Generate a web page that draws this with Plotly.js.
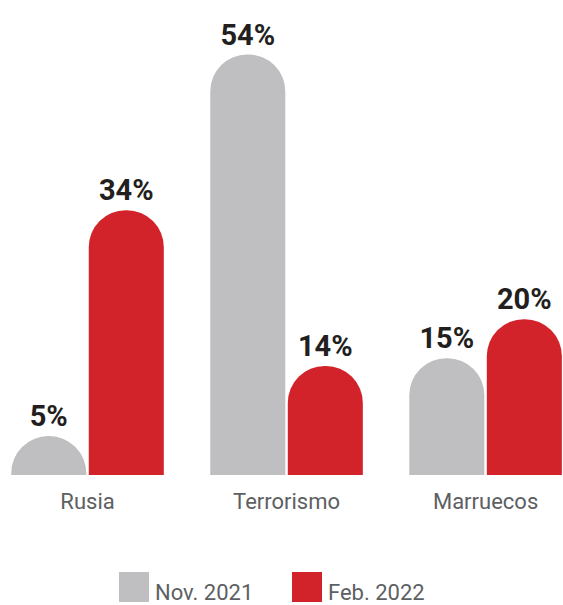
<!DOCTYPE html>
<html>
<head>
<meta charset="utf-8">
<script src="https://cdn.plot.ly/plotly-3.0.1.min.js"></script>
<style>html,body{margin:0;padding:0;background:#fff;}#chart{width:563px;height:605px;}</style>
</head>
<body>
<div id="chart"></div>
<script>
const categories = ["Rusia", "Terrorismo", "Marruecos"];
const nov2021 = [5, 54, 15];
const feb2022 = [34, 14, 20];
const seriesNames = ["Nov. 2021", "Feb. 2022"];
const seriesColors = ["#bfbec0", "#d2232a"];

const FONT = "Roboto, 'Noto Sans', sans-serif";
const labelFont = {family: FONT, size: 29, color: "#231f20", weight: 700};

function trace(vals, name, color) {
  return {
    type: "bar", x: categories, y: vals, name: name,
    marker: {color: color, cornerradius: "50%"},
    text: vals.map(v => v + "%"), textposition: "outside",
    textfont: labelFont, cliponaxis: false, hoverinfo: "skip", showlegend: false
  };
}

const data = [
  trace(nov2021, seriesNames[0], seriesColors[0]),
  trace(feb2022, seriesNames[1], seriesColors[1])
];

// legend drawn as squares + text below the plot (plot area spans y 0..475 px)
const H = 475, W = 563;
const legendItems = [
  {sq: 119, txt: 153},
  {sq: 292, txt: 326}
];
const shapes = legendItems.map((it, i) => ({
  type: "rect", xref: "paper", yref: "paper",
  x0: it.sq / W, x1: (it.sq + 30) / W,
  y0: (H - 602) / H, y1: (H - 572) / H,
  fillcolor: seriesColors[i], line: {width: 0}
}));
const annotations = legendItems.map((it, i) => ({
  xref: "paper", yref: "paper", x: it.txt / W, y: (H - 592) / H,
  xanchor: "left", yanchor: "middle", showarrow: false,
  text: seriesNames[i], font: {family: FONT, size: 22, color: "#5d6062"}
}));

const layout = {
  width: 563, height: 605,
  margin: {l: 0, r: 0, t: 0, b: 130},
  paper_bgcolor: "#fff", plot_bgcolor: "#fff",
  barmode: "group", bargap: 0.221, bargroupgap: 0.032,
  showlegend: false,
  shapes: shapes, annotations: annotations,
  xaxis: {range: [-0.4397, 2.389], showgrid: false, zeroline: false, showline: false,
    ticks: "outside", ticklen: 7, tickcolor: "rgba(0,0,0,0)",
    tickfont: {family: FONT, size: 22, color: "#5d6062"}},
  yaxis: {range: [0, 61], visible: false, showgrid: false, zeroline: false}
};

Plotly.newPlot("chart", data, layout, {displayModeBar: false, staticPlot: true});
</script>
</body>
</html>
